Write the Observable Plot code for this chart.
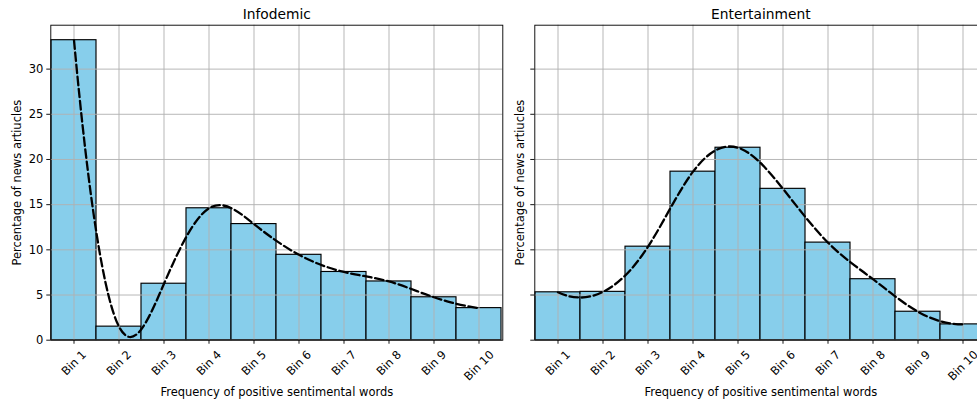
<!DOCTYPE html>
<html><head><meta charset="utf-8">
<script src="https://cdn.jsdelivr.net/npm/d3@7"></script>
<script src="https://cdn.jsdelivr.net/npm/@observablehq/plot@0.6"></script>
<style>
html,body{margin:0;padding:0;background:#fff;overflow:hidden}
#wrap{position:relative;width:977px;height:402px;overflow:hidden}
#wrap svg{position:absolute;top:0}
</style></head><body><div id="wrap"></div>
<script>
const bins = ["Bin 1","Bin 2","Bin 3","Bin 4","Bin 5","Bin 6","Bin 7","Bin 8","Bin 9","Bin 10"];
const infodemic = [33.2, 1.5, 6.25, 14.6, 12.85, 9.45, 7.55, 6.5, 4.75, 3.55];
const entertainment = [5.3, 5.35, 10.35, 18.65, 21.3, 16.75, 10.8, 6.75, 3.15, 1.75];
const yTicks = [0, 5, 10, 15, 20, 25, 30];
const titles = ["Infodemic", "Entertainment"];
const xLabel = "Frequency of positive sentimental words";
const yLabel = "Percentage of news artiucles";

// interpolating cubic spline curve with parabolic run-out end conditions
function runoutSpline(context) {
  let xs, ys;
  return {
    areaStart() {}, areaEnd() {},
    lineStart() { xs = []; ys = []; },
    point(x, y) { xs.push(+x); ys.push(+y); },
    lineEnd() {
      const n = xs.length;
      if (!n) return;
      context.moveTo(xs[0], ys[0]);
      if (n < 3) { for (let i = 1; i < n; i++) context.lineTo(xs[i], ys[i]); return; }
      const h = [];
      for (let i = 0; i < n - 1; i++) h[i] = xs[i + 1] - xs[i];
      const A = Array.from({length: n}, () => new Array(n).fill(0));
      const b = new Array(n).fill(0);
      A[0][0] = 1; A[0][1] = -1;
      for (let i = 1; i < n - 1; i++) {
        A[i][i - 1] = h[i - 1];
        A[i][i] = 2 * (h[i - 1] + h[i]);
        A[i][i + 1] = h[i];
        b[i] = 6 * ((ys[i + 1] - ys[i]) / h[i] - (ys[i] - ys[i - 1]) / h[i - 1]);
      }
      A[n - 1][n - 2] = -1; A[n - 1][n - 1] = 1;
      for (let c = 0; c < n; c++) {
        let p = c;
        for (let r = c + 1; r < n; r++) if (Math.abs(A[r][c]) > Math.abs(A[p][c])) p = r;
        [A[c], A[p]] = [A[p], A[c]]; [b[c], b[p]] = [b[p], b[c]];
        for (let r = c + 1; r < n; r++) {
          const f = A[r][c] / A[c][c];
          if (!f) continue;
          for (let k = c; k < n; k++) A[r][k] -= f * A[c][k];
          b[r] -= f * b[c];
        }
      }
      const M = new Array(n).fill(0);
      for (let r = n - 1; r >= 0; r--) {
        let s = b[r];
        for (let k = r + 1; k < n; k++) s -= A[r][k] * M[k];
        M[r] = s / A[r][r];
      }
      for (let i = 0; i < n - 1; i++) {
        const hi = h[i], d = (ys[i + 1] - ys[i]) / hi;
        const m0 = d - hi * (2 * M[i] + M[i + 1]) / 6;
        const m1 = d + hi * (M[i] + 2 * M[i + 1]) / 6;
        context.bezierCurveTo(xs[i] + hi / 3, ys[i] + m0 * hi / 3, xs[i + 1] - hi / 3, ys[i + 1] - m1 * hi / 3, xs[i + 1], ys[i + 1]);
      }
    }
  };
}

const yMax = d3.max([...infodemic, ...entertainment]) * 1.05;
const FS = 11.5;
const S = 1.15; // points -> pixels

function panel(values, title, showYLabels, width, ml, mr, yLabelDx) {
  const data = bins.map((bin, i) => ({bin, value: values[i]}));
  return Plot.plot({
    width, height: 402,
    marginLeft: ml, marginRight: mr, marginTop: 24.7, marginBottom: 62.3,
    style: {fontFamily: "'DejaVu Sans'", fontSize: FS + "px", background: "transparent", color: "black", overflow: "visible"},
    x: {type: "band", domain: bins, padding: 0, axis: null},
    y: {domain: [0, yMax], axis: null},
    marks: [
      Plot.barY(data, {x: "bin", y: "value", fill: "#87CEEB", stroke: "black", strokeWidth: 1 * S}),
      Plot.gridX(bins, {stroke: "#b0b0b0", strokeOpacity: 1, strokeWidth: 0.8 * S}),
      Plot.gridY(yTicks, {stroke: "#b0b0b0", strokeOpacity: 1, strokeWidth: 0.8 * S}),
      Plot.line(data, {x: "bin", y: "value", curve: runoutSpline, stroke: "black", strokeWidth: 2 * S, strokeDasharray: `${7.4 * S},${3.2 * S}`}),
      Plot.frame({stroke: "black", strokeWidth: 0.8 * S}),
      Plot.axisY(yTicks, {tickSize: 3.5 * S, tickPadding: 3.5, fontSize: FS, strokeWidth: 0.8 * S, stroke: "black",
        tickFormat: showYLabels ? (d) => d : () => "", label: null}),
      Plot.axisX(bins, {tickSize: 3.5 * S, strokeWidth: 0.8 * S, stroke: "black", tickFormat: () => "", label: null}),
      Plot.text(bins.filter((b) => b.length < 6), {x: (d) => d, text: (d) => d, frameAnchor: "bottom", lineAnchor: "middle", rotate: -45, dy: 22.8, fontSize: FS, textAnchor: "middle"}),
      Plot.text(bins.filter((b) => b.length >= 6), {x: (d) => d, text: (d) => d, frameAnchor: "bottom", lineAnchor: "middle", rotate: -45, dy: 25.6, fontSize: FS, textAnchor: "middle"}),
      Plot.text([yLabel], {text: (d) => d, frameAnchor: "left", lineAnchor: "middle", rotate: -90, dx: yLabelDx, textAnchor: "middle", fontSize: FS}),
      Plot.text([xLabel], {text: (d) => d, frameAnchor: "bottom", lineAnchor: "middle", dy: 52, fontSize: FS, textAnchor: "middle"}),
      Plot.text([title], {text: (d) => d, frameAnchor: "top", lineAnchor: "middle", dy: -10.7, fontSize: 13.8, textAnchor: "middle"})
    ]
  });
}

const wrap = document.getElementById("wrap");
const left = panel(infodemic, titles[0], true, 505, 50.3, 2.7, -33.3);
left.style.left = "0px";
const right = panel(entertainment, titles[1], false, 495, 29.3, 13.7, -14.3);
right.style.left = "505px";
wrap.append(left, right);
</script>
</body></html>
